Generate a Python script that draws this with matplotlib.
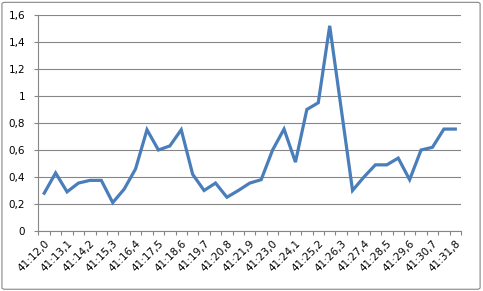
import matplotlib
matplotlib.use('Agg')
import matplotlib.pyplot as plt
from matplotlib.patches import FancyBboxPatch

# one reading every 0.55 s, labels on every other one
times = ['41:12,0', '41:12,6', '41:13,1', '41:13,7', '41:14,2', '41:14,8',
         '41:15,3', '41:15,9', '41:16,4', '41:17,0', '41:17,5', '41:18,1',
         '41:18,6', '41:19,2', '41:19,7', '41:20,3', '41:20,8', '41:21,4',
         '41:21,9', '41:22,5', '41:23,0', '41:23,6', '41:24,1', '41:24,7',
         '41:25,2', '41:25,8', '41:26,3', '41:26,9', '41:27,4', '41:28,0',
         '41:28,5', '41:29,1', '41:29,6', '41:30,2', '41:30,7', '41:31,3',
         '41:31,8']
values = [0.28, 0.43, 0.29, 0.355, 0.375, 0.375, 0.21, 0.31, 0.46, 0.75,
          0.60, 0.63, 0.75, 0.42, 0.30, 0.355, 0.25, 0.30, 0.355, 0.38,
          0.60, 0.755, 0.51, 0.90, 0.95, 1.52, 0.91, 0.30, 0.40, 0.49,
          0.49, 0.54, 0.38, 0.60, 0.62, 0.755, 0.755]
y_ticks = [0, 0.2, 0.4, 0.6, 0.8, 1.0, 1.2, 1.4, 1.6]
y_labels = ['0', '0,2', '0,4', '0,6', '0,8', '1', '1,2', '1,4', '1,6']

fig = plt.figure(figsize=(4.83, 2.91), dpi=100)
border = FancyBboxPatch((0.004, 0.006), 0.99, 0.986, boxstyle='round,pad=0,rounding_size=0.006',
                        transform=fig.transFigure, facecolor='none', edgecolor='#868686',
                        linewidth=0.8, zorder=-1)
fig.patches.append(border)

ax = fig.add_axes([0.0797, 0.2062, 0.8748, 0.7423])
ax.set_facecolor('none')
n = len(values)
xs = list(range(n))
ax.plot(xs, values, color='#4A7EBB', linewidth=2.3, solid_joinstyle='miter')

ax.set_xlim(-0.5, n - 0.5)
ax.set_ylim(0, 1.6)
ax.set_yticks(y_ticks)
ax.set_yticklabels(y_labels)
ax.yaxis.grid(True, color='#868686', linewidth=0.8)
ax.set_axisbelow(True)

# tick marks sit between categories, labels on every other point
ax.set_xticks([i - 0.5 for i in range(n + 1)], minor=False)
ax.set_xticklabels([])
ax.set_xticks(xs[::2], minor=True)
ax.set_xticklabels(times[::2], minor=True, rotation=45, ha='right', va='top',
                   rotation_mode='anchor', fontsize=7.5)
ax.tick_params(axis='x', which='major', length=3, color='#868686', width=0.8, direction='out')
ax.tick_params(axis='x', which='minor', length=0, pad=5)
ax.tick_params(axis='y', length=3, color='#868686', width=0.8, labelsize=7.5, pad=6.5)

for s in ['top', 'right']:
    ax.spines[s].set_visible(False)
for s in ['left', 'bottom']:
    ax.spines[s].set_color('#868686')
    ax.spines[s].set_linewidth(0.8)

fig.savefig('out.png', dpi=100)
